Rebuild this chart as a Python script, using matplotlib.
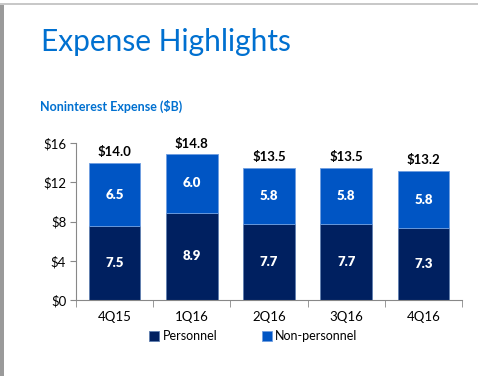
import numpy as np
import matplotlib.pyplot as plt
from matplotlib.patches import Rectangle

# data
quarters = ["4Q15", "1Q16", "2Q16", "3Q16", "4Q16"]
personnel = [7.5, 8.9, 7.7, 7.7, 7.3]
non_personnel = [6.5, 6.0, 5.8, 5.8, 5.8]
totals = [14.0, 14.8, 13.5, 13.5, 13.2]
yticks = [0, 4, 8, 12, 16]

DARK = "#002060"
BLUE = "#0055C4"
TITLE_BLUE = "#0070D0"
FONT = ["Lato", "DejaVu Sans"]

plt.rcParams['font.family'] = FONT

fig = plt.figure(figsize=(4.78, 3.76), dpi=100)

# page decoration: grey top line and left bar
fig.add_artist(Rectangle((0, 1 - 5 / 376), 1, 1.5 / 376, transform=fig.transFigure,
                         color="#c8c8c8", lw=0))
fig.add_artist(Rectangle((0, 0), 4 / 478, 1 - 5 / 376, transform=fig.transFigure,
                         color="#9a9a9a", lw=0))

fig.text(41 / 478, 1 - 42 / 376, "Expense Highlights", fontsize=21.5,
         color=TITLE_BLUE, va="center", ha="left")
fig.text(40 / 478, 1 - 106 / 376, "Noninterest Expense ($B)", fontsize=9,
         fontweight="bold", color=TITLE_BLUE, va="center", ha="left")

ax = fig.add_axes([76 / 478, 1 - 300 / 376, 386 / 478, 157 / 376])
x = np.arange(len(quarters))
w = 0.67
ax.bar(x, personnel, w, color=DARK, edgecolor="#5f7fb0", lw=0.6,
       label="Personnel")
ax.bar(x, non_personnel, w, bottom=personnel, color=BLUE,
       edgecolor="#6f9ee0", lw=0.6, label="Non-personnel")

for i in range(len(quarters)):
    ax.text(x[i], personnel[i] / 2, f"{personnel[i]:.1f}", ha="center",
            va="center", color="white", fontweight="heavy", fontsize=9.5)
    ax.text(x[i], personnel[i] + non_personnel[i] / 2, f"{non_personnel[i]:.1f}",
            ha="center", va="center", color="white", fontweight="heavy", fontsize=9.5)
    ax.text(x[i], totals[i] + 0.5, f"${totals[i]:.1f}", ha="center",
            va="bottom", color="black", fontweight="bold", fontsize=9.5)

ax.set_xlim(-0.5, len(quarters) - 0.5)
ax.set_ylim(0, 16)
ax.set_yticks(yticks)
ax.set_yticklabels([f"${v}" for v in yticks])
ax.set_xticks(x)
ax.set_xticklabels(quarters)
ax.set_xticks(np.arange(-0.5, len(quarters)), minor=True)
ax.tick_params(axis="x", which="major", length=0, pad=8, labelsize=9.5)
ax.tick_params(axis="x", which="minor", length=5, color="#888888", direction="out")
ax.tick_params(axis="y", length=4, color="#888888", labelsize=9.5, pad=3)

for s in ["top", "right"]:
    ax.spines[s].set_visible(False)
for s in ["left", "bottom"]:
    ax.spines[s].set_color("#888888")

ax.legend(loc="upper center", bbox_to_anchor=(0.46, -0.12), ncol=2, frameon=False,
          fontsize=9, handlelength=0.8, handleheight=0.8, handletextpad=0.3,
          columnspacing=3.5)

fig.savefig("out.png", dpi=100)
